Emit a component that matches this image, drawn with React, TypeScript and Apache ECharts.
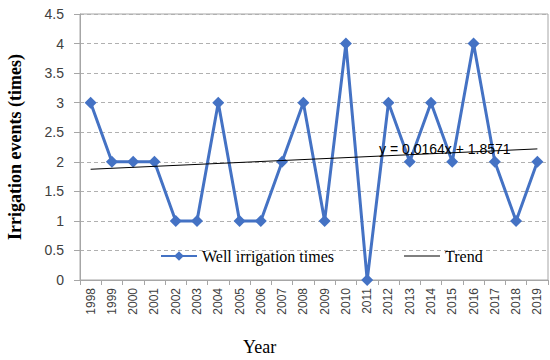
import React, { useEffect, useRef } from "react";
import * as echarts from "echarts";

const years = ["1998","1999","2000","2001","2002","2003","2004","2005","2006","2007","2008","2009","2010","2011","2012","2013","2014","2015","2016","2017","2018","2019"];
const irrigationTimes = [3,2,2,2,1,1,3,1,1,2,3,1,4,0,3,2,3,2,4,2,1,2];
const trendPoints: [string, number][] = [["1998", 1.8735], ["2019", 2.2179]];
const trendLabel = "y = 0.0164x + 1.8571";
const yTicks = { min: 0, max: 4.5, interval: 0.5 };

export default function App() {
  const ref = useRef<HTMLDivElement>(null);
  useEffect(() => {
    if (!ref.current) return;
    const chart = echarts.init(ref.current, undefined, { renderer: "svg" });
    chart.setOption({
      animation: false,
      backgroundColor: "#ffffff",
      grid: {
        left: 80, right: 2, top: 14, bottom: 80,
        containLabel: false, outerBoundsMode: "none",
        show: true, borderColor: "#a6a6a6", borderWidth: 1,
      },
      legend: {
        left: 155,
        top: 243,
        itemWidth: 36,
        itemHeight: 12,
        itemGap: 70,
        textStyle: { fontFamily: "Liberation Serif", fontSize: 16, color: "#000" },
        data: [
          { name: "Well irrigation times" },
          { name: "Trend", icon: "path://M0,0H36V1.2H0Z", itemStyle: { color: "#000" } },
        ],
      },
      xAxis: {
        type: "category",
        data: years,
        boundaryGap: true,
        axisLine: { lineStyle: { color: "#a6a6a6" } },
        axisTick: { show: true, length: 5, lineStyle: { color: "#a6a6a6" } },
        axisLabel: { rotate: 90, fontFamily: "Liberation Sans", fontSize: 12, color: "#404040", margin: 8, interval: 0 },
      },
      yAxis: {
        type: "value",
        min: yTicks.min,
        max: yTicks.max,
        interval: yTicks.interval,
        name: "Irrigation events (times)",
        nameLocation: "middle",
        nameGap: 56,
        nameTextStyle: { fontFamily: "Liberation Serif", fontWeight: "bold", fontSize: 18, color: "#000" },
        axisLine: { show: true, lineStyle: { color: "#a6a6a6" } },
        axisTick: { show: true, length: 6, lineStyle: { color: "#a6a6a6" } },
        axisLabel: { fontFamily: "Liberation Sans", fontSize: 14, color: "#404040", margin: 16 },
        splitLine: { lineStyle: { color: "#b0b0b0", type: [4, 3] } },
      },
      series: [
        {
          name: "Well irrigation times",
          type: "line",
          data: irrigationTimes,
          symbol: "diamond",
          symbolSize: 12,
          itemStyle: { color: "#4472c4" },
          lineStyle: { color: "#4472c4", width: 3 },
          z: 3,
        },
        {
          name: "Trend",
          type: "line",
          data: trendPoints,
          symbol: "none",
          itemStyle: { color: "#000" },
          lineStyle: { color: "#000", width: 1 },
          z: 4,
        },
      ],
      graphic: [
        {
          type: "text",
          left: 379,
          top: 142,
          z: 10,
          style: { text: trendLabel, fontFamily: "Liberation Sans", fontSize: 14, fill: "#000" },
        },
        {
          type: "text",
          left: 243,
          top: 338,
          style: { text: "Year", fontFamily: "Liberation Serif", fontSize: 18, fill: "#000" },
        },
      ],
    });
    return () => chart.dispose();
  }, []);
  return <div ref={ref} style={{ width: 550, height: 360, position: "absolute", left: 0, top: 0 }} />;
}
